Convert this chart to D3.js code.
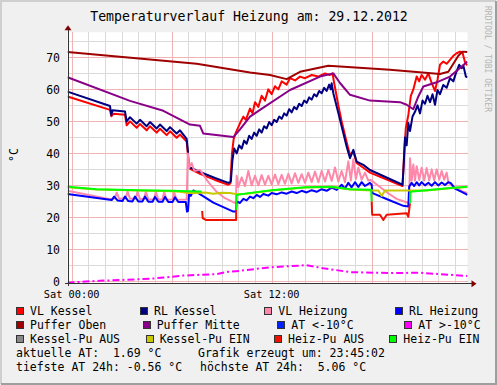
<!DOCTYPE html>
<html>
<head>
<meta charset="utf-8">
<script src="https://cdn.jsdelivr.net/npm/d3@7"></script>
<style>
body { margin: 0; background: #f0f0f0; }
svg { display: block; }
text { font-family: "DejaVu Sans Mono", monospace; fill: #000; }
</style>
</head>
<body>
<script>
// hours since Sat 00:00 (graph runs 23:45 Fri .. 23:45 Sat)
var vlKessel = [[-0.25,57.8],[2.3,53.6],[2.38,51.6],[2.5,52.4],[3.2,52.1],[3.3,48.8],[3.5,50.0],[3.9,48.0],[4.1,49.2],[4.5,47.2],[4.7,48.5],[5.1,46.5],[5.3,47.7],[5.7,45.7],[5.9,46.9],[6.3,44.9],[6.5,45.9],[6.9,43.7],[6.97,40],[7.02,35.8],[7.1,35.2],[7.7,33.6],[8.6,31.7],[9.4,30.2],[9.52,30.6],[9.62,40],[9.72,44.5],[9.85,46.5],[10.1,49.4],[10.3,51.5],[10.45,50.5],[10.7,54],[10.85,52.5],[11.0,56],[11.2,54.5],[11.4,58],[11.6,56.5],[11.8,60],[12.0,58.5],[12.2,61],[12.4,60],[12.6,62.5],[12.9,61.5],[13.1,63.5],[13.4,62.8],[13.7,64],[14.0,63.5],[14.4,64.5],[14.8,64],[15.2,65],[15.5,64.5],[15.65,65],[15.75,62],[16.0,55],[16.2,50],[16.5,43.5],[16.7,39.5],[16.9,40.5],[17.1,37],[17.5,35.5],[17.9,34],[19.85,29.8],[19.95,40],[20.05,48],[20.2,52],[20.35,58],[20.5,60],[20.7,64],[20.85,62.5],[21.0,64.5],[21.2,63],[21.4,65],[21.6,62],[21.8,59.5],[21.95,63],[22.1,67.7],[22.3,68.7],[22.5,68],[22.7,69.2],[22.9,70.5],[23.1,71.3],[23.3,71.8],[23.45,71.5],[23.6,68.5],[23.75,67.5]];
var rlKessel = [[-0.25,59.3],[2.3,54.8],[2.38,52],[2.45,53.5],[3.2,53.1],[3.3,50.0],[3.5,51.3],[3.9,49.3],[4.1,50.5],[4.5,48.5],[4.7,49.8],[5.1,47.8],[5.3,49.0],[5.7,47.0],[5.9,48.2],[6.3,46.2],[6.5,47.2],[6.9,44.5],[6.97,41],[7.02,36.2],[7.1,35.6],[7.7,34.2],[8.6,32.3],[9.4,30.8],[9.55,31.2],[9.65,38],[9.75,41.5],[9.9,40],[10.05,42.5],[10.2,41.5],[10.35,44],[10.5,43],[10.65,45.5],[10.8,44.5],[10.95,46.5],[11.1,45.5],[11.25,47.5],[11.4,46.5],[11.55,48.5],[11.7,47.8],[11.85,49.8],[12.0,48.8],[12.15,50.5],[12.3,49.8],[12.45,51.5],[12.6,50.8],[12.75,52.5],[12.9,51.8],[13.05,53.8],[13.2,52.8],[13.35,54.5],[13.5,53.8],[13.65,55.5],[13.8,54.8],[13.95,56.5],[14.1,55.8],[14.25,57.5],[14.4,56.8],[14.55,58.5],[14.7,57.8],[14.85,59.5],[15.0,58.8],[15.15,60.5],[15.3,59.5],[15.45,61.5],[15.55,60],[15.6,61.9],[15.7,58.8],[16.0,52.6],[16.2,48.4],[16.5,42.1],[16.7,38.5],[16.9,41.1],[17.1,37.4],[17.5,36.4],[17.9,34.8],[19.85,30.2],[19.92,36],[20.0,45],[20.1,42.5],[20.2,49.5],[20.3,47],[20.45,51.5],[20.6,53],[20.75,55],[20.9,52.5],[21.05,56.5],[21.2,55.5],[21.35,58],[21.5,56],[21.65,58.5],[21.8,55.2],[21.95,59.8],[22.1,58.5],[22.3,61.4],[22.5,60.5],[22.7,63.5],[22.9,62.5],[23.05,65],[23.25,67.7],[23.4,66.6],[23.5,67.5],[23.65,64],[23.75,63.8]];
var vlHeizung = [[-0.25,28.3],[2.3,25.7],[2.6,26],[2.7,27.8],[2.85,25.8],[3.25,26],[3.35,28.2],[3.5,25.8],[3.85,25.9],[3.95,28.1],[4.1,25.7],[4.35,25.8],[4.45,28.1],[4.6,25.6],[4.95,25.7],[5.05,28],[5.2,25.6],[5.45,25.7],[5.55,27.9],[5.7,25.5],[6.05,25.6],[6.15,27.8],[6.3,25.5],[6.9,25.6],[6.97,40],[7.05,35.5],[7.2,37],[7.35,34.6],[7.7,34.8],[8.2,31],[8.7,28],[9.2,26],[9.85,24.4],[9.9,33],[10.0,29.5],[10.2,32.5],[10.4,29.8],[10.6,34.5],[10.8,30],[11.0,33],[11.2,30],[11.4,33.2],[11.6,30.2],[11.8,33],[12.0,30.3],[12.2,33.4],[12.4,30.4],[12.6,33.3],[12.8,30.5],[13.0,33.6],[13.2,30.6],[13.4,33.8],[13.6,30.8],[13.8,33.5],[14.0,30.8],[14.2,34],[14.4,31],[14.6,34.3],[14.8,31],[15.0,34.5],[15.2,31.2],[15.4,34.8],[15.6,31.4],[15.8,35.6],[16.0,31.2],[16.2,34.5],[16.4,31],[16.6,37.5],[16.75,31.5],[16.9,38.2],[17.05,32],[17.2,35.5],[17.4,31.8],[17.6,34],[17.8,31.5],[17.95,31.7],[18.5,29.5],[19.0,27.5],[19.5,25.8],[20.25,24.4],[20.3,38.5],[20.4,31.5],[20.5,36.5],[20.6,31.5],[20.7,36],[20.85,31.7],[21.0,35.5],[21.15,31.5],[21.3,35.4],[21.45,31.6],[21.6,35],[21.75,31.6],[21.9,35],[22.05,31.8],[22.2,34.5],[22.35,31.8],[22.5,34],[22.6,31],[22.9,29.5],[23.2,28.8],[23.5,28],[23.75,27.6]];
var rlHeizung = [[-0.25,27.3],[2.4,25.4],[2.55,26.5],[2.75,25.3],[3.05,25.1],[3.2,26.5],[3.4,25.1],[3.65,25],[3.8,26.5],[4.0,25],[4.25,25],[4.4,26.5],[4.6,24.9],[4.85,24.9],[5.0,26.4],[5.2,24.9],[5.45,24.9],[5.6,26.4],[5.8,24.8],[6.05,24.8],[6.2,26.3],[6.4,24.8],[6.85,24.8],[6.92,21.8],[6.98,22],[7.05,27.8],[7.15,26.7],[7.3,28.4],[7.6,27.6],[8.5,24.6],[9.7,21.8],[9.85,21.8],[9.9,25],[10.1,24.5],[10.3,25.8],[10.5,25.3],[10.7,26.5],[10.9,26],[11.1,27],[11.3,26.4],[11.5,27.3],[11.8,26.8],[12.0,27.6],[12.3,27.2],[12.6,27.8],[12.9,27.4],[13.2,28.1],[13.5,27.6],[13.8,28.3],[14.1,27.8],[14.4,28.5],[14.7,28],[15.0,28.8],[15.3,28.3],[15.6,29.3],[15.9,28.6],[16.2,30.2],[16.4,29],[16.6,30.8],[16.8,29.4],[17.0,31],[17.2,29.5],[17.4,31],[17.6,29.8],[17.9,30.8],[18.0,30.2],[18.05,27.6],[19.0,25.5],[19.9,23.6],[20.2,23.4],[20.25,29.6],[20.4,30.8],[20.55,29.8],[20.7,31],[20.85,30],[21.0,31],[21.2,30],[21.4,30.8],[21.6,29.9],[21.8,31],[22.0,30],[22.2,30.9],[22.4,30.1],[22.6,31],[22.75,30.7],[23.0,29],[23.4,28],[23.75,27]];
var pufferOben = [[-0.25,71.7],[7.5,68.0],[10.7,65.3],[11.9,64.5],[12.9,63.2],[13.7,65.5],[15.4,67.4],[19.1,66.1],[22.1,64.8],[22.6,65.5],[23.2,70.5],[23.45,71.8],[23.75,71.7]];
var pufferMitte = [[-0.25,63.8],[3.5,56.4],[5.5,53.3],[7.1,49],[7.7,48.6],[7.9,46.2],[9.7,45.1],[10.1,47.5],[10.7,51.5],[11.3,53.6],[13.1,59.8],[14.9,64],[15.7,65],[16.1,62],[16.7,58.3],[17.9,56.5],[19.7,56],[20.1,55.2],[20.5,53.8],[20.8,57.8],[21.1,60.9],[22.0,62.4],[22.7,64],[23.75,68.7]];
var atUeber = [[-0.25,-0.4],[1.7,0.2],[4.7,0.8],[6.7,1.8],[8.7,2.3],[9.4,3.0],[10.1,3.3],[11.9,4.4],[14.1,5.06],[15.1,4.1],[16.7,2.9],[19.1,2.6],[20.9,2.7],[23.75,1.69]];
var kesselPuEin = [[-0.25,29.4],[1.5,28.7],[4,28.4],[6,28.2],[6.5,28.0],[7.0,27.6],[7.5,27.6],[8.0,27.8],[8.5,27.4],[9.0,27.7],[9.5,27.6],[9.9,27.2],[10.5,27.4],[12.0,28.4],[14.0,29.3],[15.6,29.5],[16.7,28.7],[18.0,28.4],[18.4,28.4],[18.6,26.7],[18.8,28.4],[20.3,28.4],[21.3,28.4],[22.7,29.1],[23.75,29.5]];
var heizPuAus = [null,[7.83,22],[7.86,19.8],[8.05,19.2],[9.87,19.2],[9.87,22.3],null,[18.0,25],[18.03,20.8],[18.5,20.8],[18.7,19.2],[18.9,20.8],[20.1,21.3],[20.2,20.2],[20.3,24.4],null];
var heizPuEin = [[-0.25,29.6],[1.5,28.8],[4,28.5],[6,28.3],[7.0,28.2],[7.8,28.1],null,[9.87,22.3],[9.9,27],[10.5,27.5],[12.0,28.5],[14.0,29.4],[15.6,29.6],[16.7,28.8],[17.97,28.6],[18.0,25],null,[20.3,24.4],[20.32,28],[21.3,28.5],[22.7,29.2],[23.75,29.6]];

var legendNames = ["VL Kessel","RL Kessel","VL Heizung","RL Heizung","Puffer Oben","Puffer Mitte","AT <-10\u00b0C","AT >-10\u00b0C","Kessel-Pu AUS","Kessel-Pu EIN","Heiz-Pu AUS","Heiz-Pu EIN"];
var legendColors = ["#ff0000","#000080","#ff88aa","#0000ff","#a00000","#880088","#0022ff","#ff00ff","#888888","#c8c800","#ee1100","#00ff00"];
var seriesData = [vlKessel, rlKessel, vlHeizung, rlHeizung, pufferOben, pufferMitte, null, atUeber, null, kesselPuEin, heizPuAus, heizPuEin];
var yTicks = [0,10,20,30,40,50,60,70];
var xTickLabels = [[0,"Sat 00:00"],[12,"Sat 12:00"]];
var infoLines = [["aktuelle AT:  1.69 \u00b0C","Grafik erzeugt um: 23:45:02"],["tiefste AT 24h: -0.56 \u00b0C","h\u00f6chste AT 24h:  5.06 \u00b0C"]];

var W = 497, H = 385;
var pL = 67.5, pR = 467.5, pT = 32.3, pB = 283.3;

var svg = d3.select("body").append("svg").attr("width", W).attr("height", H);

// frame
svg.append("rect").attr("width", W).attr("height", H).attr("fill", "#f0f0f0");
svg.append("path").attr("d", "M1,384 V1 H496").attr("fill", "none").attr("stroke", "#cfcfcf").attr("stroke-width", 2);
svg.append("path").attr("d", "M1,384 H496 V1").attr("fill", "none").attr("stroke", "#9e9e9e").attr("stroke-width", 2);

var x = d3.scaleLinear().domain([-0.25, 23.75]).range([pL, pR]);
var y = d3.scaleLinear().domain([-0.6, 77.84]).range([pB, pT]);

svg.append("rect").attr("x", pL).attr("y", pT).attr("width", pR - pL).attr("height", pB - pT).attr("fill", "#fff");

// grid
var minorY = d3.range(0, 78, 5).filter(function(v) { return v % 10 != 0; });
var majorY = d3.range(0, 78, 10);
var minorX = d3.range(0, 24, 1).filter(function(h) { return h % 6 != 0; });
var majorX = d3.range(0, 24, 6);
var grid = svg.append("g").attr("shape-rendering", "crispEdges");
function hLines(vals, col) {
  grid.selectAll(null).data(vals).enter().append("line")
    .attr("x1", pL).attr("x2", pR)
    .attr("y1", function(d) { return Math.round(y(d)) + 0.5; })
    .attr("y2", function(d) { return Math.round(y(d)) + 0.5; })
    .attr("stroke", col);
}
function vLines(vals, col) {
  grid.selectAll(null).data(vals).enter().append("line")
    .attr("y1", pT).attr("y2", pB)
    .attr("x1", function(d) { return Math.round(x(d)) + 0.5; })
    .attr("x2", function(d) { return Math.round(x(d)) + 0.5; })
    .attr("stroke", col);
}
hLines(minorY, "#dadada");
vLines(minorX, "#dadada");
hLines(majorY, "#f0b4b4");
vLines(majorX, "#f0b4b4");

// lines
svg.append("clipPath").attr("id", "c").append("rect")
  .attr("x", pL).attr("y", pT - 2).attr("width", pR - pL).attr("height", pB - pT + 4);
var line = d3.line().defined(function(d) { return d != null; })
  .x(function(d) { return x(d[0]); }).y(function(d) { return y(d[1]); });
var plot = svg.append("g").attr("clip-path", "url(#c)");
seriesData.forEach(function(data, i) {
  if (!data) return;
  var p = plot.append("path").attr("d", line(data)).attr("fill", "none")
    .attr("stroke", legendColors[i]).attr("stroke-width", 2).attr("stroke-linejoin", "round");
  if (data === atUeber) p.attr("stroke-dasharray", "7,3,2,3");
});

// axes
var ax = svg.append("g");
ax.append("line").attr("x1", pL - 3).attr("x2", pR + 5).attr("y1", pB + 0.5).attr("y2", pB + 0.5).attr("stroke", "#333").attr("shape-rendering", "crispEdges");
ax.append("line").attr("x1", pL + 0.5).attr("x2", pL + 0.5).attr("y1", pB + 3).attr("y2", pT - 4).attr("stroke", "#333").attr("shape-rendering", "crispEdges");
ax.append("path").attr("d", "M" + (pR + 4) + "," + (pB - 3) + " L" + (pR + 9) + "," + (pB + 0.5) + " L" + (pR + 4) + "," + (pB + 4) + "Z").attr("fill", "#7f0000");
ax.append("path").attr("d", "M" + (pL - 3) + "," + (pT - 2) + " L" + (pL + 0.5) + "," + (pT - 7) + " L" + (pL + 4) + "," + (pT - 2) + "Z").attr("fill", "#7f0000");

ax.selectAll(null).data(yTicks).enter().append("text")
  .attr("x", 60).attr("y", function(d) { return y(d); }).attr("dy", "0.36em")
  .attr("text-anchor", "end").attr("font-size", 11.5).text(function(d) { return d; });
ax.selectAll(null).data(xTickLabels).enter().append("text")
  .attr("x", function(d) { return x(d[0]); }).attr("y", 298)
  .attr("text-anchor", "middle").attr("font-size", 10.3).text(function(d) { return d[1]; });

svg.append("text").attr("transform", "translate(18,155) rotate(-90)").attr("text-anchor", "middle")
  .attr("font-size", 11.5).text("\u00b0C");

svg.append("text").attr("x", 249).attr("y", 21).attr("text-anchor", "middle").attr("font-size", 13.2)
  .text("Temperaturverlauf Heizung am: 29.12.2012");

svg.append("text").attr("transform", "translate(485,6) rotate(90)").attr("font-size", 8)
  .style("fill", "#b4b4b4").text("RRDTOOL / TOBI OETIKER");

// legend
var legendX = [16, 140, 264.3, 395, 16, 142.7, 277.3, 404.3, 16, 145.7, 274, 389.3];
var legendRowY = [311, 325, 339];
var lg = svg.append("g");
legendNames.forEach(function(name, i) {
  var lx = legendX[i], ly = legendRowY[Math.floor(i / 4)];
  lg.append("rect").attr("x", lx + 0.5).attr("y", ly - 3.5).attr("width", 7).attr("height", 7)
    .attr("fill", legendColors[i]).attr("stroke", "#333").attr("shape-rendering", "crispEdges");
  lg.append("text").attr("x", lx + 14).attr("y", ly).attr("dy", "0.36em").attr("font-size", 11.5).text(name);
});
infoLines.forEach(function(row, i) {
  var ly = 353.3 + i * 14;
  lg.append("text").attr("x", 16).attr("y", ly).attr("dy", "0.36em").attr("font-size", 11.5).style("white-space", "pre").text(row[0]);
  lg.append("text").attr("x", i == 0 ? 198 : 200).attr("y", ly).attr("dy", "0.36em").attr("font-size", 11.5).style("white-space", "pre").text(row[1]);
});
</script>
</body>
</html>
